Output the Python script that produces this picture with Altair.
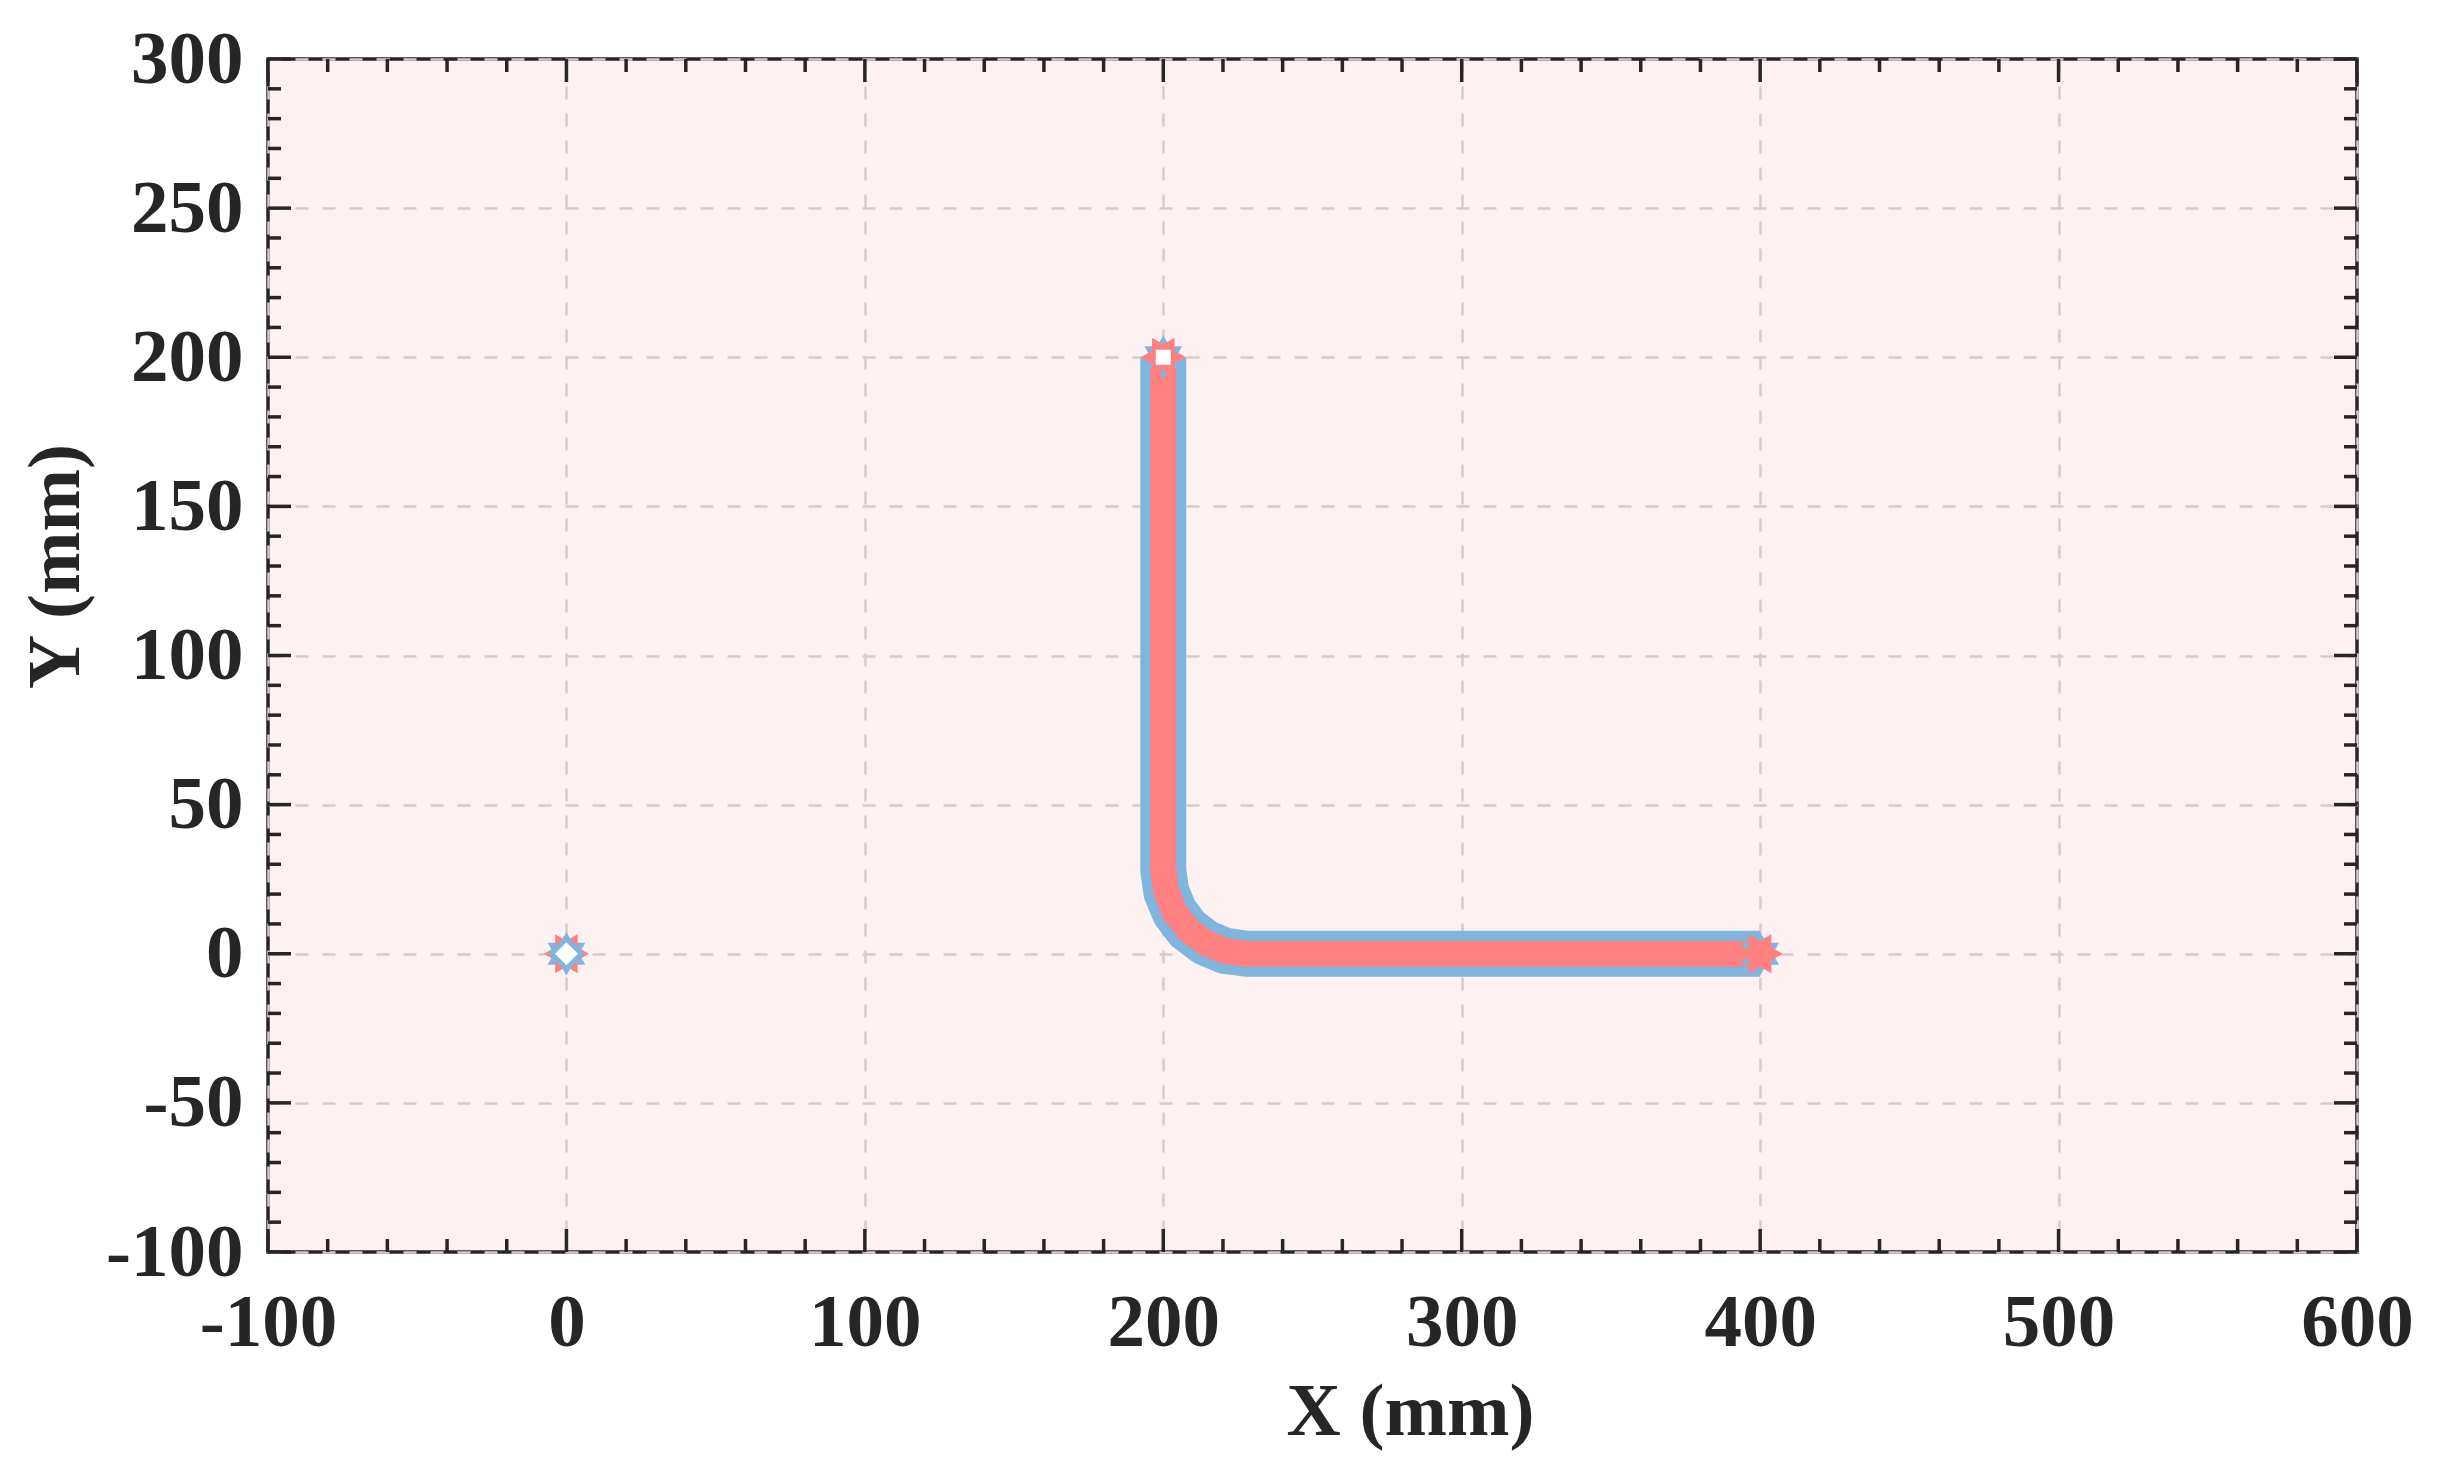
import altair as alt
import pandas as pd
import math

# ---- data ----
blue_x = [200, 200, 200, 200, 201.0, 203.8, 208.2, 214.0, 220.8, 228, 300, 400]
blue_y = [200, 150, 100, 28, 20.8, 14.0, 8.2, 3.8, 0.95, 0, 0, 0]
red_x = [200, 200, 200, 200, 201.0, 203.8, 208.2, 214.0, 220.8, 228, 300, 400]
red_y = [200, 150, 100, 28, 20.8, 14.0, 8.2, 3.8, 0.95, 0, 0, 0]

marker_x = [0, 200, 400]
marker_y = [0, 200, 0]
start_x = [200]
start_y = [200]
origin_x = [0]
origin_y = [0]

x_major = [-100, 0, 100, 200, 300, 400, 500, 600]
y_major = [-100, -50, 0, 50, 100, 150, 200, 250, 300]
x_minor = [v for v in range(-100, 601, 20) if v % 100 != 0]
y_minor = [v for v in range(-100, 301, 10) if v % 50 != 0]

# ---- style ----
W, H = 2089, 1193
FONT = "Liberation Serif"
AX = "#262626"
BG = "#fdf1f1"
GRID = "#d6cccc"
BLUE = "#80b6de"
RED = "#ff8080"

# hexagram path in [-1, 1]
pts = []
for k in range(12):
    r = 1.0 if k % 2 == 0 else 1 / math.sqrt(3)
    a = math.radians(90 + 30 * k)
    pts.append((r * math.cos(a), -r * math.sin(a)))
HEX = "M" + " L".join(f"{px:.4f},{py:.4f}" for px, py in pts) + " Z"

xs = alt.Scale(domain=[-100, 600], nice=False, zero=False)
ys = alt.Scale(domain=[-100, 300], nice=False, zero=False)

xaxis = alt.Axis(
    values=x_major, title="X (mm)", grid=True, ticks=False, domain=False,
    gridColor=GRID, gridDash=[13, 14], gridWidth=2.5,
    labelFont=FONT, labelFontSize=75, labelFontWeight="bold", labelColor=AX,
    labelPadding=93, labelBaseline="alphabetic", labelFlush=False, labelOverlap=False,
    labelExpr="'' + datum.value",
    titleFont=FONT, titleFontSize=75, titleFontWeight="bold", titleColor=AX,
    titleX=1142, titleY=182, titleBaseline="alphabetic", titleAlign="center", titleAngle=0,
)
yaxis = alt.Axis(
    values=y_major, title="Y (mm)", grid=True, ticks=False, domain=False,
    gridColor=GRID, gridDash=[13, 14], gridWidth=2.5,
    labelFont=FONT, labelFontSize=75, labelFontWeight="bold", labelColor=AX,
    labelPadding=25, labelBaseline="middle", labelFlush=False, labelOverlap=False,
    labelExpr="'' + datum.value",
    titleFont=FONT, titleFontSize=75, titleFontWeight="bold", titleColor=AX,
    titleX=-190, titleY=507, titleBaseline="alphabetic", titleAlign="center", titleAngle=270,
)

def X(f="x"):
    return alt.X(f"{f}:Q", scale=xs, axis=xaxis)

def Y(f="y"):
    return alt.Y(f"{f}:Q", scale=ys, axis=yaxis)

layers = []

# ticks (inward, on all four sides)
for vals, ln in [(x_major, 23), (x_minor, 13)]:
    d = pd.DataFrame({"x": vals})
    layers.append(alt.Chart(d).mark_rule(color=AX, strokeWidth=3.5).encode(
        x=X(), y=alt.value(H), y2=alt.value(H - ln)))
    layers.append(alt.Chart(d).mark_rule(color=AX, strokeWidth=3.5).encode(
        x=X(), y=alt.value(0), y2=alt.value(ln)))
for vals, ln in [(y_major, 23), (y_minor, 13)]:
    d = pd.DataFrame({"y": vals})
    layers.append(alt.Chart(d).mark_rule(color=AX, strokeWidth=3.5).encode(
        y=Y(), x=alt.value(0), x2=alt.value(ln)))
    layers.append(alt.Chart(d).mark_rule(color=AX, strokeWidth=3.5).encode(
        y=Y(), x=alt.value(W), x2=alt.value(W - ln)))

blue_df = pd.DataFrame({"x": blue_x, "y": blue_y, "i": list(range(len(blue_x)))})
red_df = pd.DataFrame({"x": red_x, "y": red_y, "i": list(range(len(red_x)))})

layers.append(alt.Chart(blue_df).mark_line(color=BLUE, strokeWidth=46, strokeCap="butt",
                                           strokeJoin="round").encode(x=X(), y=Y(), order="i:Q"))
layers.append(alt.Chart(red_df).mark_line(color=RED, strokeWidth=26, strokeCap="butt",
                                          strokeJoin="round").encode(x=X(), y=Y(), order="i:Q"))

mk = pd.DataFrame({"x": marker_x, "y": marker_y})
layers.append(alt.Chart(mk).mark_point(shape=HEX, filled=True, color=BLUE, size=1900,
                                       opacity=1).encode(x=X(), y=Y()))
layers.append(alt.Chart(mk).mark_point(shape=HEX, filled=True, color=RED, size=2025,
                                       opacity=1, angle=30).encode(x=X(), y=Y()))

st = pd.DataFrame({"x": start_x, "y": start_y})
layers.append(alt.Chart(st).mark_point(shape="square", filled=True, fill="white", stroke=RED,
                                       strokeWidth=2, size=289, opacity=1).encode(x=X(), y=Y()))

org = pd.DataFrame({"x": origin_x, "y": origin_y})
layers.append(alt.Chart(org).mark_point(shape="diamond", filled=True, fill="white", stroke=BLUE,
                                        strokeWidth=5, size=900, opacity=1).encode(x=X(), y=Y()))

chart = alt.layer(*layers).properties(
    width=W, height=H,
    autosize=alt.AutoSizeParams(type="none"),
    padding={"left": 260, "top": 51, "right": 60, "bottom": 200},
).configure_view(fill=BG, stroke=AX, strokeWidth=3.5)

chart.save("out.html", embed_options={"renderer": "svg", "actions": False})
